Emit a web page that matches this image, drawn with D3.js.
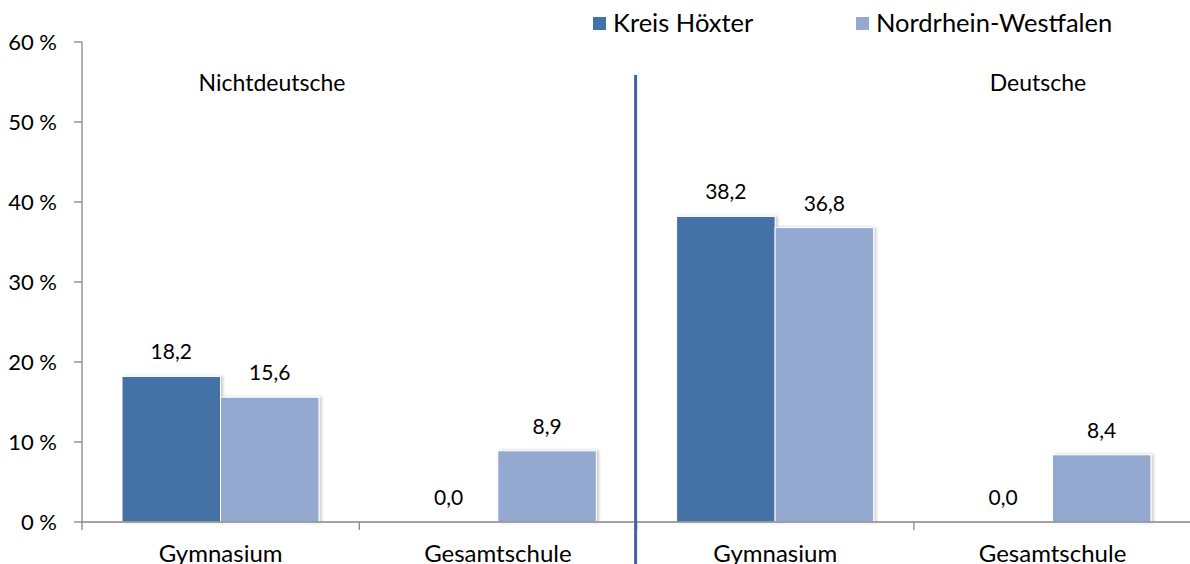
<!DOCTYPE html>
<html>
<head>
<meta charset="utf-8">
<script src="https://cdn.jsdelivr.net/npm/d3@7"></script>
<style>
  body { margin: 0; background: #fff; }
  svg { display: block; font-family: Lato, "Open Sans", sans-serif; }
  .tick-lbl { font-size: 22px; fill: #000; }
  .val { font-size: 21px; fill: #000; }
  .catlbl { font-size: 24px; fill: #000; }
  .legend { font-size: 25.5px; fill: #000; }
  .group { font-size: 23px; fill: #000; }
</style>
</head>
<body>
<svg id="chart" width="1190" height="564"></svg>
<script>
// data
var categories = ['Gymnasium (N)', 'Gesamtschule (N)', 'Gymnasium (D)', 'Gesamtschule (D)'];
var catLabels  = ['Gymnasium', 'Gesamtschule', 'Gymnasium', 'Gesamtschule'];
var series     = ['Kreis Höxter', 'Nordrhein-Westfalen'];
var kreis      = [18.2, 0.0, 38.2, 0.0];
var nrw        = [15.6, 8.9, 36.8, 8.4];
var yTicks     = [0, 10, 20, 30, 40, 50, 60];
var groups     = ['Nichtdeutsche', 'Deutsche'];
var colors     = ['#4472A6', '#94A9D0'];

var svg = d3.select('#chart');

var plotLeft = 82, plotTop = 42, plotBottom = 522, band = 277.3;

var y = d3.scaleLinear().domain([0, 60]).range([plotBottom, plotTop]);
var x0 = d3.scaleBand().domain(categories).range([plotLeft, plotLeft + band * 4]);
var x1 = d3.scaleBand().domain(series).range([40, 237]);

var defs = svg.append('defs');
var f = defs.append('filter').attr('id', 'shadow')
	.attr('x', '-10%').attr('y', '-10%').attr('width', '130%').attr('height', '120%');
f.append('feDropShadow')
	.attr('dx', 2).attr('dy', 0).attr('stdDeviation', 1.6)
	.attr('flood-color', '#000').attr('flood-opacity', 0.22);

// y axis
svg.append('line')
	.attr('x1', plotLeft).attr('x2', plotLeft)
	.attr('y1', y(60)).attr('y2', plotBottom + 8)
	.attr('stroke', '#868686').attr('stroke-width', 1.3);
svg.selectAll('line.ytick')
	.data(yTicks).enter().append('line')
	.attr('class', 'ytick')
	.attr('x1', plotLeft - 8).attr('x2', plotLeft)
	.attr('y1', d => y(d)).attr('y2', d => y(d))
	.attr('stroke', '#868686').attr('stroke-width', 1.3);
svg.selectAll('text.tick-lbl')
	.data(yTicks).enter().append('text')
	.attr('class', 'tick-lbl')
	.attr('x', 57).attr('y', d => y(d) + 8)
	.attr('text-anchor', 'end')
	.text(d => d + ' %');

// bars
var rows = categories.map((c, i) => [
	{cat: c, s: series[0], v: kreis[i], c: colors[0]},
	{cat: c, s: series[1], v: nrw[i], c: colors[1]}
]);

var g = svg.selectAll('g.bars')
	.data(rows).enter().append('g')
	.attr('class', 'bars')
	.attr('transform', d => 'translate(' + x0(d[0].cat) + ',0)');

g.selectAll('rect')
	.data(d => d.filter(e => e.v > 0)).enter().append('rect')
	.attr('x', d => x1(d.s))
	.attr('y', d => y(d.v))
	.attr('width', x1.bandwidth())
	.attr('height', d => plotBottom - y(d.v))
	.attr('fill', d => d.c)
	.attr('stroke', '#fff').attr('stroke-width', 1)
	.attr('filter', 'url(#shadow)');

g.selectAll('text')
	.data(d => d).enter().append('text')
	.attr('class', 'val')
	.attr('x', d => x1(d.s) + x1.bandwidth() / 2)
	.attr('y', d => y(d.v) - 17)
	.attr('text-anchor', 'middle')
	.text(d => d.v.toFixed(1).replace('.', ','));

// x axis
svg.append('line')
	.attr('x1', plotLeft).attr('x2', 1190)
	.attr('y1', plotBottom).attr('y2', plotBottom)
	.attr('stroke', '#868686').attr('stroke-width', 1.3);
svg.selectAll('line.xtick')
	.data(categories.slice(1)).enter().append('line')
	.attr('class', 'xtick')
	.attr('x1', d => x0(d)).attr('x2', d => x0(d))
	.attr('y1', plotBottom).attr('y2', plotBottom + 8)
	.attr('stroke', '#868686').attr('stroke-width', 1.3);
svg.selectAll('text.catlbl')
	.data(categories).enter().append('text')
	.attr('class', 'catlbl')
	.attr('x', d => x0(d) + x0.bandwidth() / 2)
	.attr('y', 562)
	.attr('text-anchor', 'middle')
	.text((d, i) => catLabels[i]);

// divider between groups
svg.append('rect')
	.attr('x', x0(categories[2]) - 2.5).attr('y', 75)
	.attr('width', 3).attr('height', 500)
	.attr('fill', '#3D659E');

svg.append('text').attr('class', 'group')
	.attr('x', 272).attr('y', 91).attr('text-anchor', 'middle').text(groups[0]);
svg.append('text').attr('class', 'group')
	.attr('x', 1038).attr('y', 91).attr('text-anchor', 'middle').text(groups[1]);

// legend
var legX = [593, 856];
var lg = svg.selectAll('g.leg')
	.data(series).enter().append('g')
	.attr('class', 'leg')
	.attr('transform', (d, i) => 'translate(' + legX[i] + ',0)');
lg.append('rect')
	.attr('width', 13).attr('height', 13).attr('y', 17)
	.attr('fill', (d, i) => colors[i]);
lg.append('text')
	.attr('class', 'legend')
	.attr('x', 20).attr('y', 32)
	.text(d => d);
</script>
</body>
</html>
